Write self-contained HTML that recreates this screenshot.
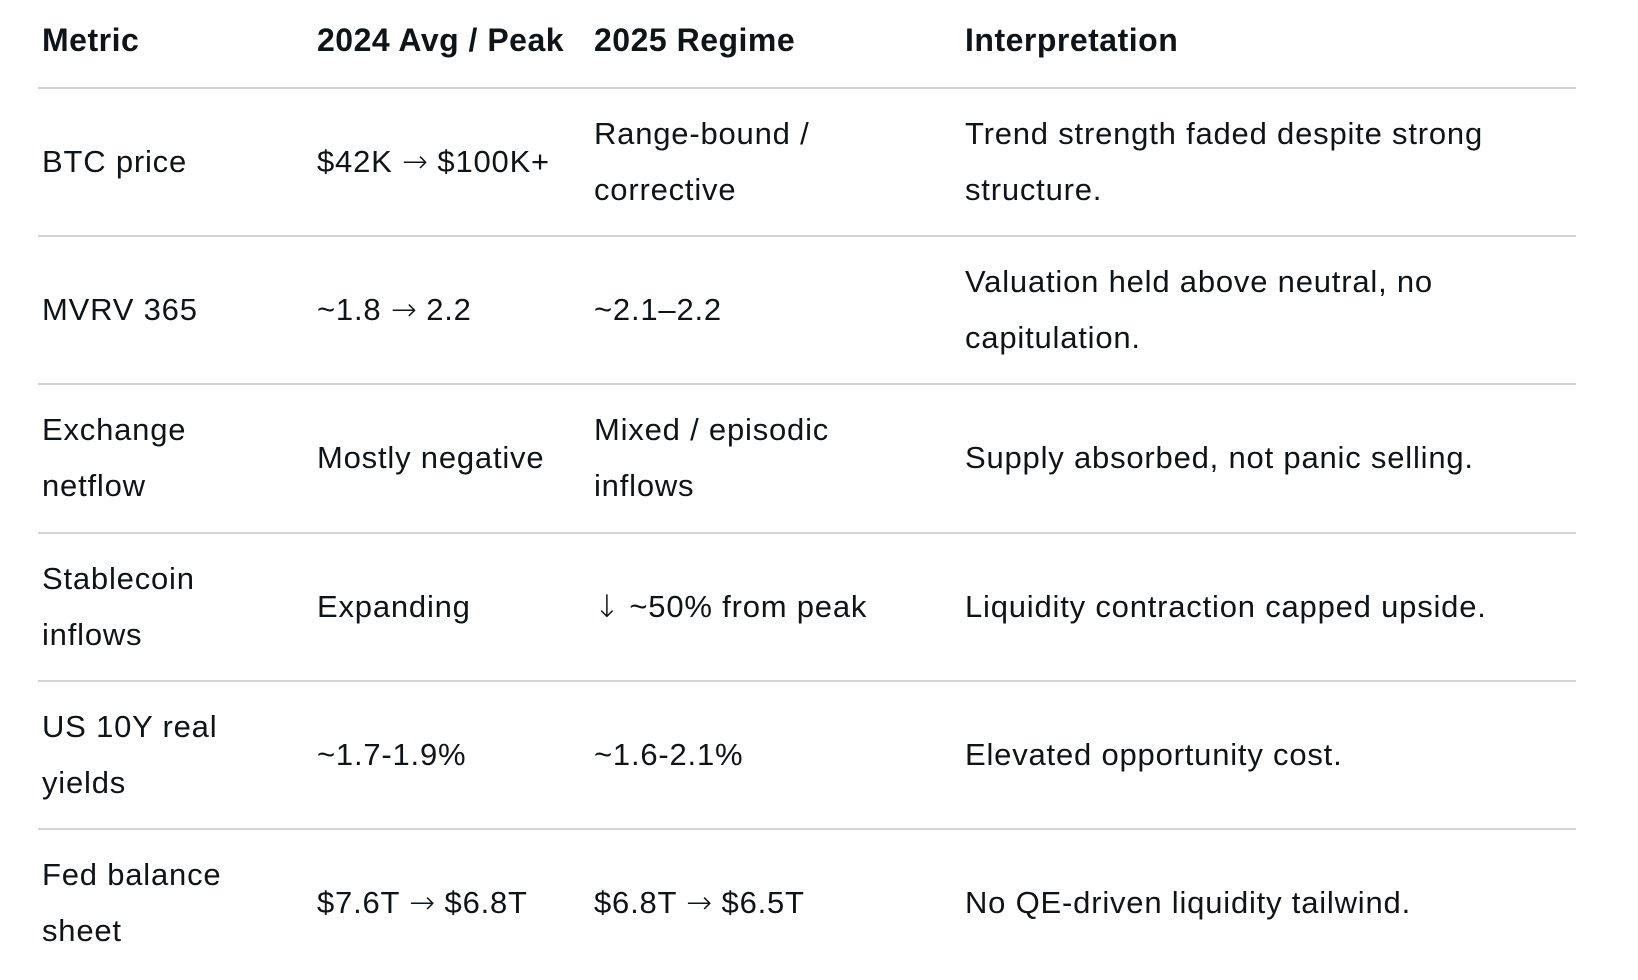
<!DOCTYPE html>
<html>
<head>
<meta charset="utf-8">
<style>
  html, body { margin:0; padding:0; background:#ffffff; }
  body { width:1638px; height:980px; position:relative; overflow:hidden;
         font-family:"Liberation Sans", Arial, sans-serif; color:#0f1419; }
  .line { position:absolute; left:38px; width:1538px; height:2px; background:#d3d3d3; }
  .c { position:absolute; display:flex; align-items:center; white-space:nowrap;
       font-size:31px; line-height:56px; letter-spacing:0.8px; }
  .h { font-weight:bold; font-size:32px; letter-spacing:0.5px; }
  .a { font-family:"DejaVu Sans", sans-serif; font-size:31px; font-weight:200; letter-spacing:0; }
</style>
</head>
<body>
  <!-- header -->
  <div class="c h" style="left:42px;top:0;height:80px;">Metric</div>
  <div class="c h" style="left:317px;top:0;height:80px;">2024 Avg / Peak</div>
  <div class="c h" style="left:594px;top:0;height:80px;">2025 Regime</div>
  <div class="c h" style="left:965px;top:0;height:80px;">Interpretation</div>

  <div class="line" style="top:87px;"></div>

  <!-- row 1 -->
  <div class="c" style="left:42px;top:89px;height:146px;">BTC price</div>
  <div class="c" style="left:317px;top:89px;height:146px;"><span>$42K <span class="a">→</span> $100K+</span></div>
  <div class="c" style="left:594px;top:89px;height:146px;"><span>Range-bound /<br>corrective</span></div>
  <div class="c" style="left:965px;top:89px;height:146px;"><span>Trend strength faded despite strong<br>structure.</span></div>

  <div class="line" style="top:235px;"></div>

  <!-- row 2 -->
  <div class="c" style="left:42px;top:237px;height:146px;">MVRV 365</div>
  <div class="c" style="left:317px;top:237px;height:146px;"><span>~1.8 <span class="a">→</span> 2.2</span></div>
  <div class="c" style="left:594px;top:237px;height:146px;">~2.1–2.2</div>
  <div class="c" style="left:965px;top:237px;height:146px;"><span>Valuation held above neutral, no<br>capitulation.</span></div>

  <div class="line" style="top:383px;"></div>

  <!-- row 3 -->
  <div class="c" style="left:42px;top:385px;height:146px;"><span>Exchange<br>netflow</span></div>
  <div class="c" style="left:317px;top:385px;height:146px;">Mostly negative</div>
  <div class="c" style="left:594px;top:385px;height:146px;"><span>Mixed / episodic<br>inflows</span></div>
  <div class="c" style="left:965px;top:385px;height:146px;">Supply absorbed, not panic selling.</div>

  <div class="line" style="top:532px;"></div>

  <!-- row 4 -->
  <div class="c" style="left:42px;top:534px;height:146px;"><span>Stablecoin<br>inflows</span></div>
  <div class="c" style="left:317px;top:534px;height:146px;">Expanding</div>
  <div class="c" style="left:594px;top:534px;height:146px;"><span><span class="a">↓</span> ~50% from peak</span></div>
  <div class="c" style="left:965px;top:534px;height:146px;">Liquidity contraction capped upside.</div>

  <div class="line" style="top:680px;"></div>

  <!-- row 5 -->
  <div class="c" style="left:42px;top:682px;height:146px;"><span>US 10Y real<br>yields</span></div>
  <div class="c" style="left:317px;top:682px;height:146px;">~1.7-1.9%</div>
  <div class="c" style="left:594px;top:682px;height:146px;">~1.6-2.1%</div>
  <div class="c" style="left:965px;top:682px;height:146px;">Elevated opportunity cost.</div>

  <div class="line" style="top:828px;"></div>

  <!-- row 6 -->
  <div class="c" style="left:42px;top:830px;height:146px;"><span>Fed balance<br>sheet</span></div>
  <div class="c" style="left:317px;top:830px;height:146px;"><span>$7.6T <span class="a">→</span> $6.8T</span></div>
  <div class="c" style="left:594px;top:830px;height:146px;"><span>$6.8T <span class="a">→</span> $6.5T</span></div>
  <div class="c" style="left:965px;top:830px;height:146px;">No QE-driven liquidity tailwind.</div>
</body>
</html>
